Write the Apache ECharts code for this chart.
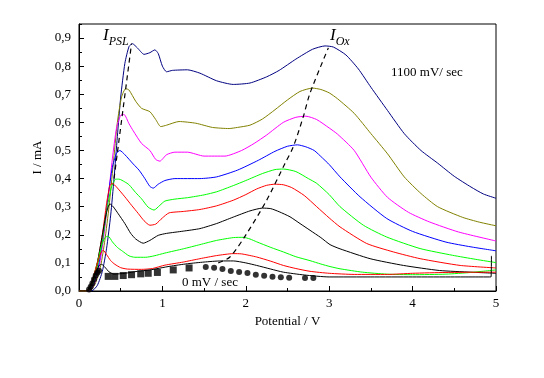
<!DOCTYPE html>
<html>
<head>
<meta charset="utf-8">
<script src="https://cdn.jsdelivr.net/npm/echarts@6/dist/echarts.min.js"></script>
<style>html,body{margin:0;padding:0;background:#fff}#c{width:544px;height:378px}</style>
</head>
<body>
<div id="c"></div>
<script>
// ---- Data (Potential / V, I / mA) ----
const xTicks = [0, 1, 2, 3, 4, 5];
const yTicks = [0, 0.1, 0.2, 0.3, 0.4, 0.5, 0.6, 0.7, 0.8, 0.9];

const sweep1100 = [[0,0],[0.15,0],[0.22,0.02],[0.28,0.07],[0.33,0.15],[0.38,0.27],[0.42,0.4],[0.46,0.55],[0.5,0.69],[0.55,0.81],[0.6,0.87],[0.64,0.88],[0.7,0.865],[0.78,0.842],[0.85,0.848],[0.91,0.858],[0.95,0.845],[1.0,0.8],[1.05,0.78],[1.12,0.785],[1.3,0.787],[1.45,0.775],[1.65,0.748],[1.85,0.735],[2.05,0.74],[2.25,0.762],[2.4,0.785],[2.6,0.825],[2.8,0.86],[2.95,0.872],[3.05,0.868],[3.2,0.84],[3.35,0.79],[3.5,0.725],[3.7,0.642],[3.9,0.56],[4.1,0.5],[4.3,0.455],[4.5,0.408],[4.7,0.37],[4.85,0.345],[5.0,0.33]];
const sweep1000 = [[0,0],[0.13,0],[0.2,0.03],[0.26,0.09],[0.31,0.18],[0.36,0.3],[0.41,0.45],[0.46,0.6],[0.51,0.69],[0.56,0.72],[0.6,0.715],[0.68,0.675],[0.75,0.65],[0.85,0.638],[0.92,0.61],[0.98,0.585],[1.05,0.59],[1.2,0.603],[1.4,0.597],[1.6,0.582],[1.8,0.578],[1.9,0.582],[2.05,0.59],[2.2,0.612],[2.35,0.645],[2.5,0.68],[2.65,0.71],[2.8,0.722],[2.9,0.717],[3.0,0.705],[3.1,0.684],[3.3,0.632],[3.5,0.56],[3.7,0.488],[3.9,0.406],[4.1,0.347],[4.3,0.3],[4.6,0.262],[4.8,0.245],[5.0,0.232]];
const sweep900 = [[0,0],[0.12,0],[0.19,0.03],[0.25,0.1],[0.3,0.2],[0.35,0.33],[0.4,0.47],[0.45,0.58],[0.5,0.625],[0.54,0.628],[0.6,0.595],[0.65,0.57],[0.75,0.525],[0.85,0.5],[0.92,0.468],[0.97,0.462],[1.05,0.485],[1.15,0.494],[1.3,0.494],[1.5,0.48],[1.75,0.48],[1.95,0.5],[2.1,0.525],[2.25,0.555],[2.45,0.6],[2.6,0.618],[2.72,0.622],[2.85,0.61],[3.0,0.58],[3.1,0.558],[3.3,0.5],[3.5,0.405],[3.7,0.333],[3.95,0.28],[4.2,0.246],[4.55,0.21],[5.0,0.178]];
const sweep800 = [[0,0],[0.11,0],[0.18,0.03],[0.24,0.1],[0.3,0.22],[0.35,0.34],[0.4,0.44],[0.45,0.49],[0.49,0.5],[0.55,0.485],[0.65,0.452],[0.72,0.43],[0.79,0.4],[0.85,0.372],[0.89,0.366],[0.95,0.38],[1.03,0.393],[1.15,0.4],[1.45,0.4],[1.65,0.406],[1.9,0.43],[2.15,0.465],[2.35,0.497],[2.5,0.515],[2.62,0.52],[2.72,0.513],[2.82,0.5],[2.92,0.473],[3.0,0.45],[3.13,0.406],[3.37,0.335],[3.69,0.258],[4.0,0.212],[4.4,0.174],[4.7,0.157],[5.0,0.143]];
const sweep700 = [[0,0],[0.1,0],[0.17,0.03],[0.23,0.1],[0.29,0.2],[0.34,0.3],[0.39,0.37],[0.44,0.398],[0.48,0.398],[0.55,0.388],[0.6,0.378],[0.68,0.35],[0.75,0.328],[0.83,0.298],[0.9,0.288],[0.97,0.305],[1.03,0.32],[1.15,0.327],[1.3,0.332],[1.5,0.342],[1.65,0.353],[1.85,0.375],[2.0,0.393],[2.2,0.418],[2.35,0.432],[2.45,0.434],[2.6,0.425],[2.75,0.4],[2.85,0.383],[3.0,0.343],[3.13,0.3],[3.41,0.234],[3.69,0.192],[4.09,0.151],[4.48,0.127],[4.75,0.113],[5.0,0.101]];
const sweep600 = [[0,0],[0.1,0],[0.16,0.03],[0.22,0.1],[0.28,0.2],[0.33,0.31],[0.37,0.375],[0.4,0.383],[0.45,0.37],[0.55,0.335],[0.63,0.305],[0.71,0.276],[0.78,0.25],[0.85,0.234],[0.92,0.238],[1.0,0.26],[1.08,0.278],[1.25,0.283],[1.45,0.29],[1.65,0.303],[1.85,0.323],[2.0,0.343],[2.13,0.363],[2.25,0.376],[2.35,0.38],[2.45,0.378],[2.55,0.368],[2.7,0.34],[2.85,0.3],[3.0,0.26],[3.13,0.228],[3.45,0.169],[3.77,0.139],[4.09,0.115],[4.57,0.091],[5.0,0.082]];
const sweep500 = [[0,0],[0.1,0],[0.16,0.03],[0.22,0.1],[0.28,0.2],[0.33,0.28],[0.37,0.31],[0.41,0.3],[0.47,0.275],[0.55,0.24],[0.62,0.205],[0.68,0.185],[0.77,0.17],[0.85,0.18],[0.95,0.198],[1.05,0.205],[1.25,0.213],[1.45,0.222],[1.65,0.24],[1.85,0.263],[2.05,0.285],[2.2,0.295],[2.3,0.293],[2.4,0.282],[2.53,0.264],[2.65,0.24],[2.77,0.216],[2.9,0.19],[3.01,0.165],[3.13,0.15],[3.49,0.115],[3.89,0.091],[4.32,0.073],[4.7,0.067],[5.0,0.063]];
const sweep400 = [[0,0],[0.09,0],[0.15,0.03],[0.21,0.09],[0.27,0.16],[0.31,0.19],[0.35,0.195],[0.4,0.175],[0.46,0.155],[0.52,0.142],[0.6,0.125],[0.67,0.12],[0.8,0.12],[0.9,0.125],[1.03,0.135],[1.25,0.15],[1.45,0.165],[1.65,0.18],[1.85,0.19],[1.97,0.191],[2.05,0.185],[2.13,0.175],[2.3,0.155],[2.45,0.139],[2.6,0.122],[2.77,0.108],[2.9,0.096],[3.01,0.087],[3.13,0.079],[3.4,0.067],[3.69,0.06],[4.0,0.058],[4.4,0.06],[4.7,0.066],[5.0,0.075]];
const sweep300 = [[0,0],[0.09,0],[0.15,0.03],[0.21,0.09],[0.26,0.135],[0.29,0.145],[0.33,0.13],[0.38,0.108],[0.43,0.095],[0.5,0.083],[0.58,0.078],[0.75,0.077],[0.88,0.08],[1.03,0.092],[1.25,0.103],[1.45,0.115],[1.65,0.126],[1.85,0.133],[1.95,0.132],[2.13,0.121],[2.3,0.106],[2.45,0.091],[2.6,0.08],[2.77,0.07],[3.0,0.063],[3.3,0.059],[3.7,0.059],[4.0,0.063],[4.4,0.066],[5.0,0.067]];
const sweep200 = [[0,0],[0.09,0],[0.15,0.03],[0.2,0.065],[0.24,0.09],[0.27,0.095],[0.31,0.085],[0.36,0.068],[0.42,0.06],[0.55,0.063],[0.7,0.07],[0.85,0.075],[1.09,0.088],[1.3,0.097],[1.5,0.103],[1.7,0.107],[1.85,0.107],[2.0,0.1],[2.13,0.091],[2.3,0.078],[2.45,0.067],[2.7,0.057],[3.0,0.05],[3.5,0.05],[4.0,0.05],[4.5,0.05],[4.94,0.05],[4.945,0.125]];
const sweep0Squares = [[0.35,0.052],[0.43,0.052],[0.53,0.055],[0.63,0.058],[0.74,0.061],[0.83,0.063],[0.94,0.066],[1.13,0.075],[1.32,0.082]];
const sweep0Circles = [[0.12,0.005],[0.14,0.015],[0.16,0.028],[0.18,0.042],[0.2,0.055],[0.22,0.065],[0.24,0.072],[1.52,0.085],[1.62,0.083],[1.72,0.078],[1.82,0.071],[1.92,0.068],[2.02,0.064],[2.12,0.058],[2.22,0.054],[2.32,0.051],[2.42,0.049],[2.52,0.047],[2.71,0.046],[2.81,0.046]];
const peakPSL = [[0.42,0.40],[0.63,0.88]];
const peakOx = [[1.67,0.1],[1.81,0.121],[2.01,0.204],[2.25,0.323],[2.47,0.454],[2.57,0.514],[2.69,0.621],[2.77,0.704],[2.99,0.865]];

const sweeps = [
  { data: sweep1100, color: '#000080' },
  { data: sweep1000, color: '#808000' },
  { data: sweep900, color: '#FF00FF' },
  { data: sweep800, color: '#0000FF' },
  { data: sweep700, color: '#00FF00' },
  { data: sweep600, color: '#FF0000' },
  { data: sweep500, color: '#000000' },
  { data: sweep400, color: '#00FF00' },
  { data: sweep300, color: '#FF0000' },
  { data: sweep200, color: '#000000' }
];

const FONT = "'Liberation Serif', 'Times New Roman', serif";
const chart = echarts.init(document.getElementById('c'));

const series = sweeps.map(s => ({
  type: 'line', data: s.data, showSymbol: false, smooth: 0.2,
  lineStyle: { color: s.color, width: 1 }, itemStyle: { color: s.color }, animation: false, z: 2
}));
series.push({ type: 'scatter', data: sweep0Squares, symbol: 'rect', symbolSize: 7, itemStyle: { color: '#000' }, animation: false, z: 3 });
series.push({ type: 'scatter', data: sweep0Circles, symbol: 'circle', symbolSize: 6, itemStyle: { color: '#000' }, animation: false, z: 3 });
series.push({ type: 'line', data: peakPSL, showSymbol: false, lineStyle: { color: '#000', width: 1.2, type: [5, 4] }, animation: false, z: 4 });
series.push({ type: 'line', data: peakOx, showSymbol: false, smooth: 0.3, lineStyle: { color: '#000', width: 1.2, type: [5, 4] }, animation: false, z: 4 });

chart.setOption({
  backgroundColor: '#fff',
  animation: false,
  grid: { left: 79, right: 48, top: 24, bottom: 87, show: true, borderColor: '#000', borderWidth: 1, backgroundColor: 'transparent' },
  xAxis: {
    type: 'value', min: xTicks[0], max: xTicks[xTicks.length - 1], interval: 1,
    name: 'Potential / V', nameLocation: 'middle', nameGap: 24,
    nameTextStyle: { fontFamily: FONT, fontSize: 13, color: '#000' },
    axisLine: { lineStyle: { color: '#000', width: 1 } },
    axisTick: { inside: true, length: 5, lineStyle: { color: '#000' } },
    minorTick: { show: true, splitNumber: 2, length: 3, lineStyle: { color: '#000' } },
    axisLabel: { fontFamily: FONT, fontSize: 13, color: '#000', margin: 6 },
    splitLine: { show: false }
  },
  yAxis: [{
    type: 'value', min: yTicks[0], max: 0.95, interval: 0.1,
    name: 'I / mA', nameLocation: 'middle', nameGap: 28, nameRotate: 90,
    nameTextStyle: { fontFamily: FONT, fontSize: 13, color: '#000' },
    axisLine: { show: true, lineStyle: { color: '#000', width: 1 } },
    axisTick: { inside: true, length: 5, lineStyle: { color: '#000' } },
    axisLabel: { fontFamily: FONT, fontSize: 13, color: '#000', margin: 8, showMaxLabel: false,
      formatter: v => v.toFixed(1).replace('.', ',') },
    splitLine: { show: false }
  }, {
    type: 'value', min: yTicks[0], max: 0.95, interval: 0.05, position: 'left',
    axisLine: { show: false },
    axisTick: { inside: true, length: 3, lineStyle: { color: '#000' } },
    axisLabel: { show: false },
    splitLine: { show: false }
  }],
  graphic: [
    { type: 'text', left: 103, top: 27, style: { text: '{i|I}{s|PSL}', rich: {
      i: { fontFamily: FONT, fontStyle: 'italic', fontSize: 17, fill: '#000' },
      s: { fontFamily: FONT, fontStyle: 'italic', fontSize: 12, fill: '#000', padding: [12, 0, 0, 0] } } } },
    { type: 'text', left: 330, top: 27, style: { text: '{i|I}{s|Ox}', rich: {
      i: { fontFamily: FONT, fontStyle: 'italic', fontSize: 17, fill: '#000' },
      s: { fontFamily: FONT, fontStyle: 'italic', fontSize: 12, fill: '#000', padding: [12, 0, 0, 0] } } } },
    { type: 'text', left: 391, top: 66, style: { text: '1100 mV/ sec', fontFamily: FONT, fontSize: 13, fill: '#000' } },
    { type: 'text', left: 182, top: 276, style: { text: '0 mV / sec', fontFamily: FONT, fontSize: 13, fill: '#000' } }
  ],
  series: series
});
</script>
</body>
</html>
